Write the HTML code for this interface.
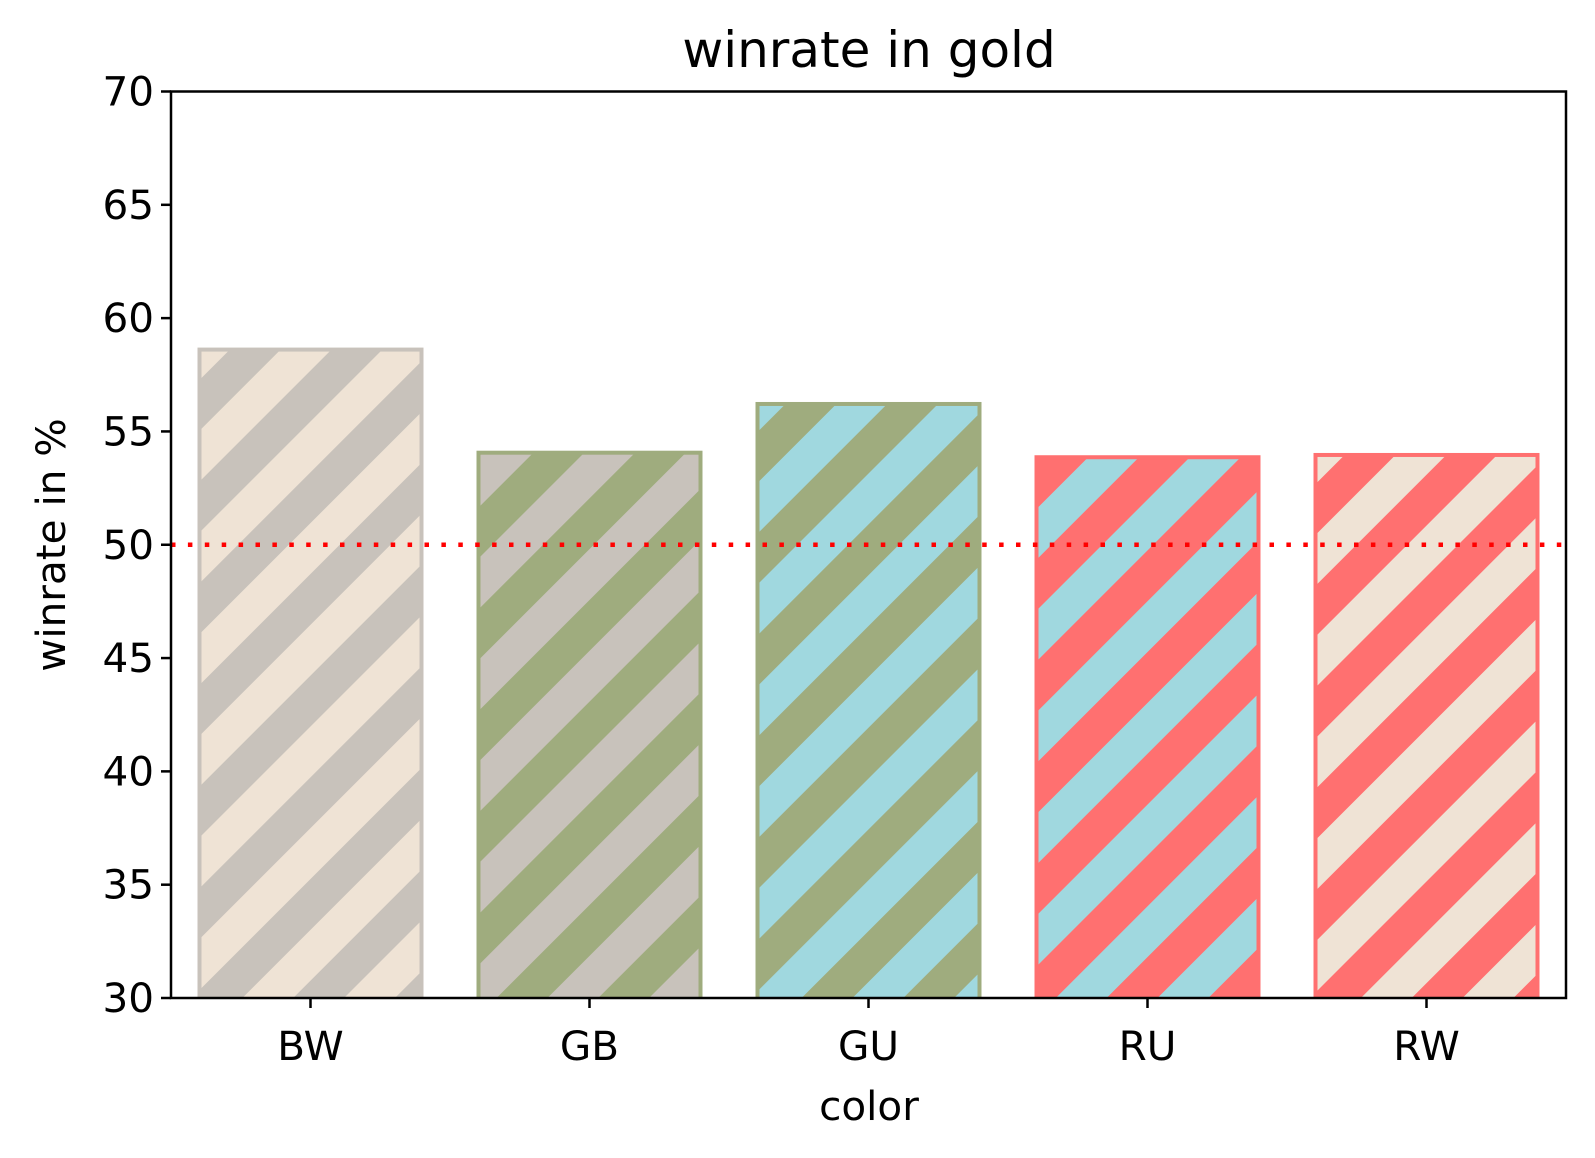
<!DOCTYPE html>
<html><head><meta charset="utf-8"><style>
html,body{margin:0;padding:0;background:#fff;overflow:hidden;width:1595px;height:1158px}
svg{display:block}
text{font-family:"DejaVu Sans","Liberation Sans",sans-serif;fill:#000}
</style></head><body>
<svg id="chart" width="1595" height="1158" viewBox="0 0 1595 1158" xmlns="http://www.w3.org/2000/svg">
<defs id="defs"></defs>
<text x="869" y="67" font-size="50" text-anchor="middle">winrate in gold</text>
<g id="bars"></g>
<g id="axes"></g>
<text x="869" y="1120" font-size="40.5" text-anchor="middle">color</text>
<text x="65" y="545" font-size="40.5" text-anchor="middle" transform="rotate(-90 65 545)">winrate in %</text>
</svg>
<script>
const categories = ["BW","GB","GU","RU","RW"];
const values = [58.7, 54.15, 56.3, 53.95, 54.05];
const faceColors = ["#efe3d5","#c8c2bb","#a0d8df","#a0d8df","#efe3d5"];
const hatchColors = ["#c8c2bb","#9fac7e","#9fac7e","#ff7070","#ff7070"];
const yTicks = [30,35,40,45,50,55,60,65,70];
const refLine = 50;

const NS="http://www.w3.org/2000/svg";
const L=171,R=1566,T=91.5,B=998,yMin=30,yMax=70;
const y=v=>B-(v-yMin)/(yMax-yMin)*(B-T);
const band=(R-L)/categories.length;
const xc=i=>L+band*(i+0.5);
const bw=band*0.81;
function mk(tag,attrs,parent){const e=document.createElementNS(NS,tag);for(const k in attrs)e.setAttribute(k,attrs[k]);parent.appendChild(e);return e;}
const defs=document.getElementById('defs'),bars=document.getElementById('bars'),axes=document.getElementById('axes');
categories.forEach((c,i)=>{
  const p=mk('pattern',{id:'h'+i,patternUnits:'userSpaceOnUse',width:71.9,height:10,patternTransform:'translate(71,0) rotate(45)'},defs);
  mk('rect',{x:0,y:0,width:71.9,height:10,fill:faceColors[i]},p);
  mk('rect',{x:0,y:0,width:35.95,height:10,fill:hatchColors[i]},p);
  const x0=xc(i)-bw/2,yt=y(values[i]);
  const g=mk('g',{},bars);
  
  
  mk('rect',{x:x0,y:yt,width:bw,height:B-yt,fill:hatchColors[i]},g);
  mk('rect',{x:x0+4,y:yt+4,width:bw-8,height:B-yt-4,fill:'url(#h'+i+')'},g);
  const t=mk('text',{x:xc(i),y:B+62,'font-size':40.5,'text-anchor':'middle'},axes);
  t.textContent=c;
  
  
  mk('line',{x1:xc(i),x2:xc(i),y1:B,y2:B+10,stroke:'#000','stroke-width':2.5},axes);
});
const rl=mk('line',{x1:L,x2:R,y1:y(refLine),y2:y(refLine),stroke:'#ff0000','stroke-width':4.5,'stroke-dasharray':'4.5 12.4'},axes);


yTicks.forEach(v=>{
  mk('line',{x1:L-10,x2:L,y1:y(v),y2:y(v),stroke:'#000','stroke-width':2.5},axes);
  const t=mk('text',{x:L-17,y:y(v)+14,'font-size':40.5,'text-anchor':'end'},axes);
  t.textContent=v;
  
  
});
const fr=mk('rect',{x:L,y:T,width:R-L,height:B-T,fill:'none',stroke:'#000','stroke-width':2.5},axes);


</script>
</body></html>
